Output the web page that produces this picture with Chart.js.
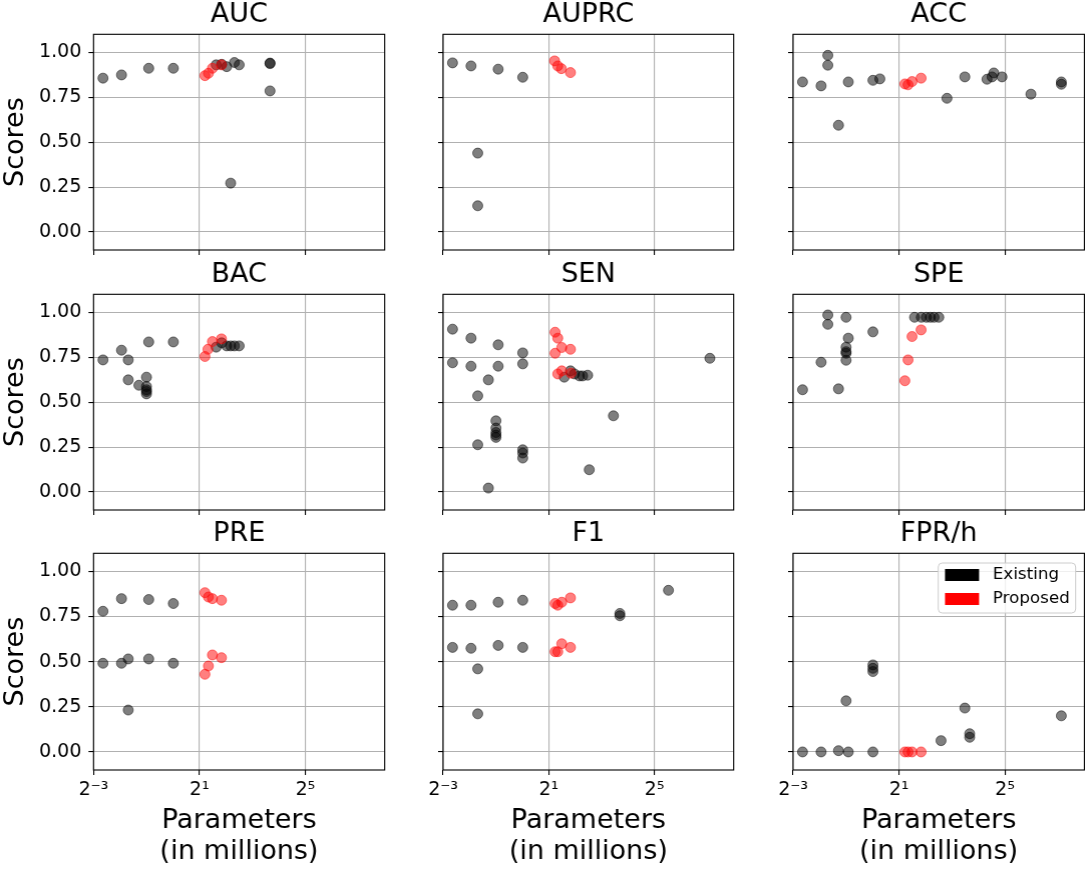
<!DOCTYPE html>
<html>
<head>
<meta charset="utf-8">
<script src="https://cdn.jsdelivr.net/npm/chart.js@4.4.0/dist/chart.umd.min.js"></script>
<style>
  html, body { margin: 0; padding: 0; background: #fff; overflow: hidden; }
  #wrap { position: relative; width: 1089px; height: 874px; overflow: hidden; }
  .panel { position: absolute; }
</style>
</head>
<body>
<div id="wrap"></div>
<script>
'use strict';

// panel titles, in grid order (row by row)
const metrics = ['AUC', 'AUPRC', 'ACC', 'BAC', 'SEN', 'SPE', 'PRE', 'F1', 'FPR/h'];
const xTicks = [0.125, 2, 32];
const xTickLabels = ['2\u207B\u00B3', '2\u00B9', '2\u2075'];
const yTicks = [0, 0.25, 0.5, 0.75, 1.0];
const seriesNames = ['Existing', 'Proposed'];

// [parameters in millions, score]
const aucExisting = [[0.16, 0.856], [0.26, 0.874], [0.53, 0.911], [1.01, 0.911], [3.1, 0.93], [3.58, 0.933],
  [4.08, 0.92], [5.0, 0.943], [5.66, 0.93], [12.7, 0.94], [12.7, 0.937], [12.7, 0.785], [4.53, 0.272]];
const aucProposed = [[2.31, 0.87], [2.53, 0.883], [2.81, 0.911], [3.56, 0.93]];

const auprcExisting = [[0.16, 0.941], [0.26, 0.924], [0.53, 0.906], [1.01, 0.861], [0.31, 0.439], [0.31, 0.146]];
const auprcProposed = [[2.33, 0.952], [2.53, 0.924], [2.78, 0.909], [3.53, 0.887]];

const accExisting = [[0.16, 0.835], [0.26, 0.813], [0.31, 0.983], [0.31, 0.928], [0.41, 0.594], [0.53, 0.835],
  [1.01, 0.844], [1.21, 0.852], [7.01, 0.744], [11.2, 0.863], [20.0, 0.85], [22.8, 0.863], [23.9, 0.885],
  [29.6, 0.863], [63.1, 0.767], [140, 0.835], [140, 0.822]];
const accProposed = [[2.33, 0.824], [2.53, 0.819], [2.81, 0.837], [3.56, 0.856]];

const bacExisting = [[0.16, 0.735], [0.26, 0.789], [0.31, 0.735], [0.31, 0.624], [0.41, 0.594], [0.50, 0.639],
  [0.50, 0.587], [0.50, 0.569], [0.50, 0.559], [0.50, 0.546], [0.53, 0.835], [1.01, 0.835], [3.1, 0.806],
  [3.58, 0.83], [4.08, 0.813], [4.53, 0.813], [5.0, 0.813], [5.66, 0.813]];
const bacProposed = [[2.31, 0.754], [2.5, 0.794], [2.81, 0.837], [3.56, 0.852]];

const senExisting = [[0.16, 0.906], [0.16, 0.719], [0.26, 0.856], [0.26, 0.70], [0.31, 0.535], [0.31, 0.263],
  [0.41, 0.624], [0.41, 0.022], [0.53, 0.819], [0.53, 0.70], [0.50, 0.396], [0.50, 0.356], [0.50, 0.331],
  [0.50, 0.317], [0.50, 0.304], [1.01, 0.774], [1.01, 0.713], [1.01, 0.235], [1.01, 0.217], [1.01, 0.189],
  [3.0, 0.639], [3.53, 0.674], [3.92, 0.657], [4.47, 0.646], [4.86, 0.646], [5.54, 0.65], [10.9, 0.424],
  [5.78, 0.124], [137, 0.744]];
const senProposed = [[2.36, 0.889], [2.53, 0.856], [2.81, 0.804], [3.53, 0.794],
  [2.36, 0.772], [2.53, 0.657], [2.81, 0.674], [3.58, 0.661]];

const speExisting = [[0.16, 0.569], [0.26, 0.722], [0.31, 0.985], [0.31, 0.933], [0.41, 0.574], [0.50, 0.972],
  [0.53, 0.856], [0.50, 0.806], [0.50, 0.781], [0.50, 0.772], [0.50, 0.733], [1.01, 0.891], [3.0, 0.972],
  [3.58, 0.972], [4.08, 0.972], [4.53, 0.972], [5.0, 0.972], [5.66, 0.972]];
const speProposed = [[2.33, 0.619], [2.53, 0.735], [2.81, 0.865], [3.56, 0.902]];

const preExisting = [[0.16, 0.779], [0.16, 0.491], [0.26, 0.849], [0.26, 0.491], [0.31, 0.515], [0.31, 0.232],
  [0.53, 0.844], [0.53, 0.515], [1.01, 0.822], [1.01, 0.491]];
const preProposed = [[2.31, 0.882], [2.53, 0.858], [2.81, 0.849], [3.56, 0.840],
  [2.31, 0.430], [2.53, 0.476], [2.81, 0.537], [3.56, 0.522]];

const f1Existing = [[0.16, 0.8125], [0.16, 0.579], [0.26, 0.8125], [0.26, 0.574], [0.31, 0.46], [0.31, 0.211],
  [0.53, 0.829], [0.53, 0.59], [1.01, 0.84], [1.01, 0.579], [12.9, 0.767], [12.9, 0.754], [46.2, 0.895]];
const f1Proposed = [[2.36, 0.822], [2.53, 0.8125], [2.81, 0.829], [3.53, 0.853],
  [2.36, 0.555], [2.53, 0.555], [2.81, 0.599], [3.53, 0.579]];

const fprExisting = [[0.16, 0], [0.26, 0], [0.41, 0.007], [0.53, 0], [0.50, 0.283], [1.01, 0], [1.01, 0.482],
  [1.01, 0.463], [1.01, 0.445], [6.0, 0.0625], [11.2, 0.243], [12.7, 0.101], [12.7, 0.081], [140, 0.20]];
const fprProposed = [[2.33, 0], [2.53, 0], [2.81, 0], [3.56, 0]];

const existingData = [aucExisting, auprcExisting, accExisting, bacExisting, senExisting,
  speExisting, preExisting, f1Existing, fprExisting];
const proposedData = [aucProposed, auprcProposed, accProposed, bacProposed, senProposed,
  speProposed, preProposed, f1Proposed, fprProposed];

// plot area edges in page pixels
const colLeft = [93.3, 443.3, 793.3];
const colRight = [385.7, 735, 1085.7];
const rowTop = [34.3, 294.3, 553.3];
const rowBottom = [250, 510, 770];
const topPad = 34.3;
const rightPad = 4;

Chart.defaults.font.family = '"DejaVu Sans", sans-serif';
Chart.defaults.color = '#000';

// frame around the axes, panel title centred on the plot, and the inside legend
const frameAndTitle = {
  id: 'frameAndTitle',
  afterDraw(chart, args, opts) {
    const ctx = chart.ctx;
    const a = chart.chartArea;
    ctx.save();
    ctx.strokeStyle = '#000';
    ctx.lineWidth = 1.1;
    ctx.strokeRect(a.left, a.top, a.right - a.left, a.bottom - a.top);

    ctx.fillStyle = '#000';
    ctx.font = '27px "DejaVu Sans"';
    ctx.textAlign = 'center';
    ctx.textBaseline = 'middle';
    ctx.fillText(opts.text, (a.left + a.right) / 2, a.top - 19);

    if (opts.legend) {
      const bx = a.right - 145.7, by = a.top + 9.7, bw = 137, bh = 50, r = 4;
      ctx.beginPath();
      ctx.moveTo(bx + r, by);
      ctx.arcTo(bx + bw, by, bx + bw, by + bh, r);
      ctx.arcTo(bx + bw, by + bh, bx, by + bh, r);
      ctx.arcTo(bx, by + bh, bx, by, r);
      ctx.arcTo(bx, by, bx + bw, by, r);
      ctx.closePath();
      ctx.fillStyle = 'rgba(255,255,255,0.8)';
      ctx.fill();
      ctx.strokeStyle = '#cccccc';
      ctx.lineWidth = 1;
      ctx.stroke();

      const colors = ['#000000', '#ff0000'];
      ctx.font = '16.7px "DejaVu Sans"';
      ctx.textAlign = 'left';
      for (let i = 0; i < seriesNames.length; i++) {
        const cy = a.top + 21.7 + i * 24;
        ctx.fillStyle = colors[i];
        ctx.fillRect(a.right - 139, cy - 6, 34, 12);
        ctx.fillStyle = '#000';
        ctx.fillText(seriesNames[i], a.right - 91.4, cy);
      }
    }
    ctx.restore();
  }
};

function makePanel(index) {
  let row = Math.floor(index / 3);
  let col = index % 3;
  let yW = col === 0 ? 93.3 : 40;
  // rows without tick labels still need room for the y label overflow padding
  let xH = row === 2 ? 104 : 30;
  let plotW = colRight[col] - colLeft[col];
  let plotH = rowBottom[row] - rowTop[row];

  let box = document.createElement('div');
  box.className = 'panel';
  box.style.left = (colLeft[col] - yW) + 'px';
  box.style.top = (rowTop[row] - topPad) + 'px';
  box.style.width = (yW + plotW + rightPad) + 'px';
  box.style.height = (topPad + plotH + xH) + 'px';
  let canvas = document.createElement('canvas');
  box.appendChild(canvas);
  document.getElementById('wrap').appendChild(box);

  const grid = {
    color: '#b0b0b0',
    lineWidth: 1.1,
    tickColor: '#000',
    tickLength: 5,
    tickWidth: 1.1
  };

  new Chart(canvas, {
    type: 'scatter',
    data: {
      datasets: [
        {
          label: seriesNames[0],
          data: existingData[index].map(p => ({ x: p[0], y: p[1] })),
          backgroundColor: 'rgba(0, 0, 0, 0.5)',
          borderColor: 'rgba(0, 0, 0, 0.5)',
          borderWidth: 1,
          pointRadius: 5,
          order: 1
        },
        {
          label: seriesNames[1],
          data: proposedData[index].map(p => ({ x: p[0], y: p[1] })),
          backgroundColor: 'rgba(255, 0, 0, 0.5)',
          borderColor: 'rgba(255, 0, 0, 0.5)',
          borderWidth: 1,
          pointRadius: 5,
          order: 0
        }
      ]
    },
    options: {
      responsive: true,
      maintainAspectRatio: false,
      animation: false,
      layout: { padding: { left: 0, top: topPad, right: rightPad, bottom: 0 } },
      plugins: {
        legend: { display: false },
        tooltip: { enabled: false },
        frameAndTitle: { text: metrics[index], legend: index === 8 }
      },
      scales: {
        x: {
          type: 'logarithmic',
          min: 0.125,
          max: 256,
          bounds: 'data',
          afterBuildTicks: s => { s.ticks = xTicks.map(v => ({ value: v })); },
          afterFit: s => { s.height = xH; },
          grid: grid,
          border: { display: false },
          ticks: {
            display: row === 2,
            autoSkip: false,
            maxRotation: 0,
            padding: 4,
            font: { size: 19 },
            callback: v => xTickLabels[xTicks.indexOf(v)]
          },
          title: {
            display: row === 2,
            text: ['Parameters', '(in millions)'],
            font: { size: 27, lineHeight: 1.15 },
            padding: { top: 0, bottom: 6 }
          }
        },
        y: {
          min: -0.1,
          max: 1.1,
          afterBuildTicks: s => { s.ticks = yTicks.map(v => ({ value: v })); },
          afterFit: s => { s.width = yW; },
          grid: grid,
          border: { display: false },
          ticks: {
            display: col === 0,
            padding: 7,
            font: { size: 19 },
            callback: v => Number(v).toFixed(2)
          },
          title: {
            display: col === 0,
            text: 'Scores',
            font: { size: 27 },
            padding: { top: 0, bottom: 0 }
          }
        }
      }
    },
    plugins: [frameAndTitle]
  });
}

for (let i = 0; i < metrics.length; i++) {
  makePanel(i);
}
</script>
</body>
</html>
